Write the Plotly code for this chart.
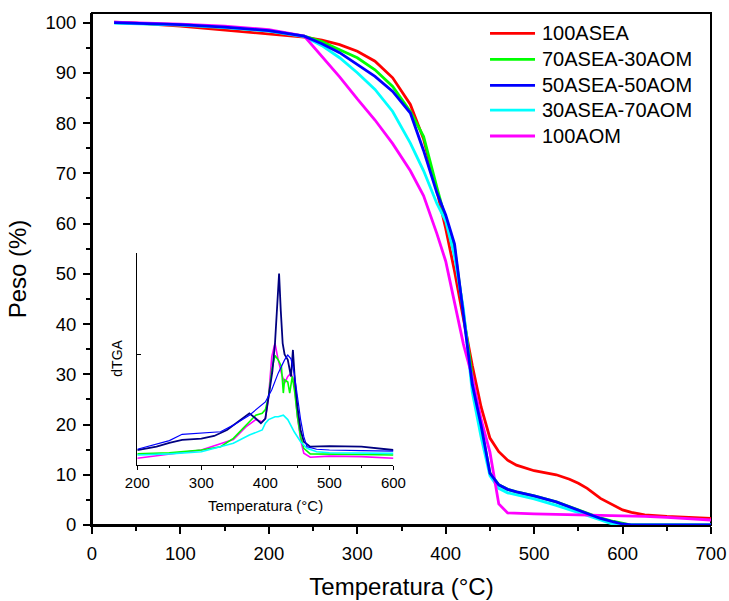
import plotly.graph_objects as go

# ---------------- main TGA data ----------------
temp = [25, 50, 100, 150, 200, 240, 260, 280, 300, 320, 340, 360, 375, 390, 400,
        410, 420, 430, 440, 450, 460, 470, 480, 500, 525, 540, 550, 560, 575, 590, 600, 610,
        625, 650, 675, 700]

w_100asea = [100.1, 99.9, 99.3, 98.5, 97.7, 97.1, 96.5, 95.6, 94.3, 92.3, 89.0, 83.7, 76.8, 66.5, 59.0,
             50.5, 41.1, 31.8, 23.5, 17.3, 14.6, 12.9, 11.9, 10.8, 10.0, 9.1, 8.3, 7.3, 5.3, 3.9, 3.0, 2.5,
             2.0, 1.7, 1.5, 1.3]
w_70_30 = [100.0, 99.9, 99.6, 99.1, 98.4, 97.3, 96.2, 94.6, 93.0, 90.6, 87.3, 82.3, 77.3, 67.2, 60.8,
           55.0, 42.5, 29.5, 19.5, 10.4, 8.0, 7.1, 6.6, 5.8, 4.6, 3.6, 3.0, 2.4, 1.4, 0.7, 0.3, 0.0,
           0.0, 0.0, 0.0, 0.0]
w_50_50 = [100.0, 99.9, 99.6, 99.1, 98.4, 97.3, 95.8, 94.0, 91.6, 89.3, 86.3, 82.0, 74.5, 66.1, 61.7,
           55.9, 41.9, 28.0, 19.8, 10.3, 8.0, 7.1, 6.6, 5.8, 4.6, 3.6, 3.0, 2.4, 1.3, 0.6, 0.2, 0.0,
           0.0, 0.0, 0.0, 0.0]
w_30_70 = [99.9, 99.8, 99.5, 99.0, 98.3, 97.2, 95.4, 93.0, 90.0, 86.7, 82.3, 76.0, 70.5, 64.0, 60.5,
           53.5, 43.0, 26.5, 17.5, 9.8, 7.3, 6.4, 6.0, 5.2, 3.9, 3.1, 2.5, 1.9, 1.0, 0.1, 0.0, 0.0,
           0.0, 0.0, 0.0, 0.0]
w_100aom = [100.1, 100.0, 99.7, 99.3, 98.6, 97.3, 93.3, 89.2, 84.8, 80.6, 75.9, 70.5, 65.5, 58.0, 52.5,
            44.0, 36.0, 29.5, 21.0, 14.5, 4.2, 2.4, 2.3, 2.2, 2.1, 2.05, 2.0, 1.95, 1.9, 1.85, 1.8, 1.75,
            1.7, 1.5, 1.3, 1.0]

series_names = ["100ASEA", "70ASEA-30AOM", "50ASEA-50AOM", "30ASEA-70AOM", "100AOM"]
series_colors = ["#FF0000", "#00FF00", "#0000FF", "#00FFFF", "#FF00FF"]

# ---------------- inset dTGA data (arbitrary units) ----------------
t_navy = [200, 230, 250, 270, 300, 320, 340, 360, 375, 385, 393, 400, 405, 411, 415, 418, 421.4,
          424, 427, 430, 435, 440, 443, 446, 450, 455, 460, 470, 500, 550, 600]
d_navy = [0.135, 0.165, 0.20, 0.226, 0.238, 0.262, 0.316, 0.406, 0.467, 0.42, 0.377, 0.42, 0.60, 0.85,
          1.10, 1.35, 1.73, 1.40, 1.10, 1.00, 0.95, 0.80, 1.04, 0.77, 0.527, 0.316, 0.21, 0.165, 0.17,
          0.165, 0.135]
t_blue = [200, 250, 270, 300, 330, 350, 375, 400, 410, 420, 430, 435, 440, 445, 450, 455, 460, 465,
          480, 500, 550, 600]
d_blue = [0.142, 0.22, 0.277, 0.286, 0.30, 0.36, 0.45, 0.57, 0.68, 0.83, 0.95, 0.994, 0.96, 0.83,
          0.617, 0.41, 0.256, 0.165, 0.142, 0.135, 0.13, 0.125]
t_green = [200, 250, 300, 330, 350, 370, 385, 395, 400, 405, 410, 415, 420, 425, 428, 430, 435, 438,
           442, 446, 450, 455, 460, 470, 500, 550, 600]
d_green = [0.10, 0.11, 0.135, 0.165, 0.24, 0.36, 0.45, 0.467, 0.50, 0.62, 0.86, 0.99, 0.95, 0.89, 0.65,
           0.77, 0.75, 0.65, 0.80, 0.65, 0.436, 0.256, 0.15, 0.10, 0.10, 0.095, 0.09]
t_magenta = [200, 250, 300, 350, 370, 385, 395, 400, 405, 410, 415, 420, 425, 430, 435, 440, 445, 450,
             455, 460, 470, 500, 550, 600]
d_magenta = [0.06, 0.10, 0.135, 0.23, 0.346, 0.41, 0.39, 0.42, 0.617, 0.98, 1.10, 0.95, 0.83, 0.74, 0.80,
             0.83, 0.75, 0.44, 0.226, 0.106, 0.07, 0.08, 0.075, 0.06]
t_cyan = [200, 250, 300, 350, 375, 390, 395, 400, 405, 415, 420, 428, 435, 445, 455, 465, 480, 500, 550, 600]
d_cyan = [0.09, 0.10, 0.12, 0.196, 0.27, 0.30, 0.316, 0.377, 0.41, 0.436, 0.436, 0.45, 0.41, 0.30, 0.21,
          0.15, 0.12, 0.11, 0.11, 0.105]

FONT = "Liberation Sans, Arial, sans-serif"

fig = go.Figure()

main_data = [w_100asea, w_70_30, w_50_50, w_30_70, w_100aom]
draw_order = [0, 1, 3, 4, 2]
for i in draw_order:
    fig.add_trace(go.Scatter(
        x=temp, y=main_data[i], mode="lines", name=series_names[i], showlegend=False,
        line=dict(color=series_colors[i], width=2.8), xaxis="x", yaxis="y"))

inset = [(t_magenta, d_magenta, "#FF00FF", 1.6), (t_green, d_green, "#00FF00", 1.6),
         (t_cyan, d_cyan, "#00FFFF", 1.6), (t_navy, d_navy, "#000080", 1.8),
         (t_blue, d_blue, "#0000FF", 1.2)]
for tx, dy, col, wd in inset:
    fig.add_trace(go.Scatter(x=tx, y=dy, mode="lines", showlegend=False,
                             line=dict(color=col, width=wd), xaxis="x2", yaxis="y2"))

axis_common = dict(showgrid=False, zeroline=False, showline=True, linecolor="black",
                   ticks="outside", tickcolor="black", automargin=False)

# legend drawn as line samples + text (layout styling, not data)
leg_rows_y = [0.9604, 0.9096, 0.8588, 0.8102, 0.7598]
shapes = [dict(type="rect", xref="paper", yref="paper", x0=0, x1=1, y0=0, y1=1,
               line=dict(color="black", width=2), layer="below")]
annotations = []
for name, col, ly in zip(series_names, series_colors, leg_rows_y):
    shapes.append(dict(type="line", xref="paper", yref="paper", x0=0.643, x1=0.7157, y0=ly, y1=ly,
                       line=dict(color=col, width=2.8)))
    annotations.append(dict(text=name, xref="paper", yref="paper", x=0.7235, y=ly, showarrow=False,
                            xanchor="left", yanchor="middle", font=dict(size=20, family=FONT)))

annotations += [
    dict(text="dTGA", xref="paper", yref="paper", x=0.0404, y=0.3248, showarrow=False,
         textangle=-90, font=dict(size=14, family=FONT), xanchor="center", yanchor="middle"),
    dict(text="Temperatura (°C)", xref="paper", yref="paper", x=0.2802, y=0.039,
         showarrow=False, font=dict(size=15, family=FONT), xanchor="center", yanchor="middle"),
]

fig.update_layout(
    width=729, height=601,
    margin=dict(l=92, r=18, t=13, b=76),
    paper_bgcolor="white", plot_bgcolor="white",
    font=dict(family=FONT, color="black"),
    showlegend=False,
    xaxis=dict(**axis_common, range=[0, 700], tickvals=list(range(0, 701, 100)),
               linewidth=2, ticklen=7, tickwidth=2, ticklabelstandoff=4,
               minor=dict(dtick=50, ticks="outside", ticklen=4, tickwidth=2, tickcolor="black"),
               tickfont=dict(size=18.5, family=FONT),
               title=dict(text="Temperatura (°C)", font=dict(size=24, family=FONT), standoff=15)),
    yaxis=dict(**axis_common, range=[0, 101.9], tickvals=list(range(0, 101, 10)),
               linewidth=2, ticklen=7, tickwidth=2, ticklabelstandoff=3,
               minor=dict(dtick=5, ticks="outside", ticklen=4, tickwidth=2, tickcolor="black"),
               tickfont=dict(size=18.5, family=FONT),
               title=dict(text="Peso (%)", font=dict(size=24, family=FONT), standoff=12)),
    xaxis2=dict(**axis_common, domain=[0.0732, 0.487], anchor="y2", range=[200, 600],
                tickvals=[200, 300, 400, 500, 600], linewidth=1, ticklen=4, tickwidth=1,
                minor=dict(dtick=50, ticks="outside", ticklen=2, tickwidth=1, tickcolor="black"),
                tickfont=dict(size=15, family=FONT)),
    yaxis2=dict(showgrid=False, zeroline=False, showline=True, linecolor="black", linewidth=1,
                domain=[0.1173, 0.532], anchor="x2", range=[0, 1.92], tickvals=[1],
                ticks="inside", ticklen=4, tickwidth=1, tickcolor="black", showticklabels=False,
                automargin=False),
    shapes=shapes,
    annotations=annotations,
)

fig.write_html("out.html", config={"displayModeBar": False},
               post_script="document.body.style.margin='0';document.body.style.overflow='hidden';")
